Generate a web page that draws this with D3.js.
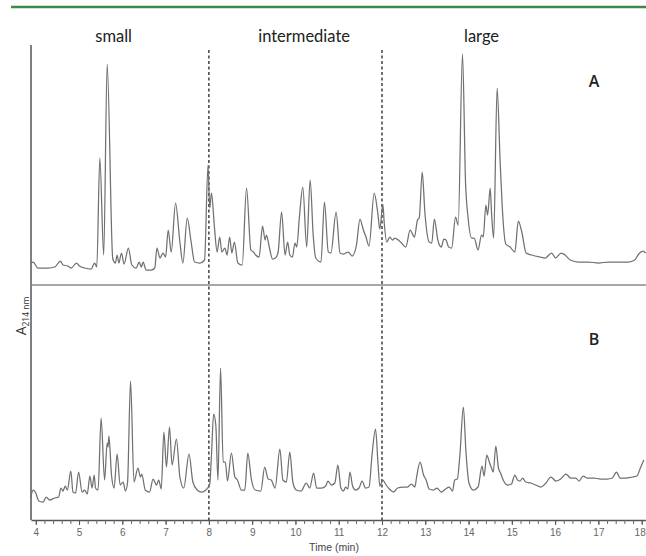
<!DOCTYPE html>
<html lang="en">
<head>
<meta charset="utf-8">
<title>Chromatograms A and B</title>
<script src="https://cdnjs.cloudflare.com/ajax/libs/d3/7.8.5/d3.min.js"></script>
<style>
  body { margin: 0; background: #fff; }
  svg { display: block; }
</style>
</head>
<body>
<div class="chart"></div>
<script>
// retention times (min) and absorbance (arbitrary units)
const timeA = [3.89, 3.94, 4.05, 4.28, 4.44, 4.57, 4.63, 4.74, 4.82, 4.94, 5.01, 5.13, 5.28, 5.36, 5.41,
  5.48, 5.57, 5.65, 5.78, 5.84, 5.88, 5.92, 5.98, 6.04, 6.14, 6.22, 6.32, 6.39, 6.44, 6.48, 6.55, 6.67,
  6.75, 6.80, 6.87, 6.94, 7.00, 7.06, 7.13, 7.23, 7.33, 7.40, 7.50, 7.59, 7.67, 7.79, 7.90, 7.98, 8.02,
  8.06, 8.13, 8.19, 8.25, 8.30, 8.37, 8.42, 8.48, 8.53, 8.59, 8.67, 8.77, 8.87, 8.97, 9.03, 9.08, 9.16,
  9.24, 9.30, 9.33, 9.40, 9.47, 9.54, 9.60, 9.68, 9.76, 9.82, 9.87, 9.93, 9.99, 10.03, 10.09, 10.17,
  10.26, 10.34, 10.41, 10.47, 10.59, 10.67, 10.76, 10.82, 10.94, 11.03, 11.11, 11.22, 11.31, 11.41,
  11.49, 11.57, 11.63, 11.70, 11.82, 11.90, 11.95, 12.02, 12.05, 12.11, 12.18, 12.24, 12.30, 12.38,
  12.45, 12.55, 12.65, 12.75, 12.82, 12.86, 12.93, 12.99, 13.09, 13.15, 13.21, 13.29, 13.37, 13.43,
  13.48, 13.54, 13.61, 13.70, 13.76, 13.86, 13.93, 13.99, 14.07, 14.13, 14.22, 14.30, 14.34, 14.40,
  14.44, 14.50, 14.53, 14.58, 14.66, 14.73, 14.78, 14.86, 14.96, 15.07, 15.15, 15.23, 15.33, 15.46,
  15.65, 15.77, 15.92, 16.01, 16.14, 16.23, 16.35, 16.54, 16.77, 17.00, 17.23, 17.46, 17.69, 17.84,
  17.93, 18.03, 18.09];
const absA = [22, 23, 17, 17, 18, 24, 20, 19, 17, 22, 19, 17, 16, 22, 18,
  127, 30, 221, 26, 22, 30, 22, 32, 21, 37, 20, 17, 23, 18, 23, 15, 15,
  17, 37, 27, 32, 28, 55, 33, 82, 43, 22, 67, 43, 23, 22, 25, 120, 77,
  92, 57, 33, 48, 33, 37, 30, 48, 32, 43, 22, 20, 97, 35, 33, 30, 28,
  59, 45, 50, 37, 26, 27, 33, 73, 30, 43, 30, 28, 42, 38, 67, 98,
  38, 105, 50, 27, 23, 83, 33, 32, 73, 32, 31, 33, 29, 40,
  66, 55, 48, 39, 92, 73, 56, 81, 63, 43, 48, 45, 47, 45,
  42, 38, 55, 48, 65, 67, 113, 73, 43, 42, 66, 45, 38, 46,
  45, 38, 37, 68, 60, 231, 103, 67, 47, 47, 35, 50, 48, 80,
  70, 97, 73, 47, 197, 123, 77, 41, 38, 33, 64, 53, 32, 30,
  28, 27, 32, 27, 32, 30, 25, 23, 23, 22, 23, 23, 23, 25,
  31, 34, 32];

const timeB = [3.88, 3.94, 3.99, 4.07, 4.17, 4.24, 4.32, 4.44, 4.53, 4.58, 4.63, 4.68, 4.73, 4.81, 4.86,
  4.92, 4.99, 5.07, 5.13, 5.19, 5.25, 5.30, 5.35, 5.38, 5.44, 5.51, 5.59, 5.65, 5.67, 5.69, 5.75, 5.81,
  5.88, 5.95, 6.02, 6.07, 6.12, 6.19, 6.27, 6.36, 6.42, 6.45, 6.53, 6.63, 6.71, 6.79, 6.84, 6.90, 6.96,
  7.02, 7.09, 7.15, 7.25, 7.33, 7.42, 7.54, 7.63, 7.73, 7.83, 7.93, 8.02, 8.06, 8.11, 8.16, 8.21, 8.27,
  8.33, 8.38, 8.43, 8.52, 8.60, 8.66, 8.75, 8.83, 8.90, 8.98, 9.07, 9.20, 9.29, 9.37, 9.44, 9.53, 9.64,
  9.71, 9.79, 9.87, 9.94, 10.02, 10.13, 10.25, 10.33, 10.42, 10.49, 10.60, 10.70, 10.75, 10.83, 10.91,
  10.98, 11.05, 11.11, 11.16, 11.21, 11.26, 11.32, 11.39, 11.47, 11.54, 11.62, 11.70, 11.77, 11.85,
  11.91, 11.95, 12.02, 12.08, 12.17, 12.27, 12.36, 12.48, 12.59, 12.68, 12.76, 12.80, 12.88, 12.96,
  13.02, 13.09, 13.19, 13.27, 13.37, 13.47, 13.55, 13.63, 13.68, 13.74, 13.80, 13.88, 13.94, 14.01,
  14.11, 14.22, 14.31, 14.36, 14.42, 14.48, 14.53, 14.57, 14.63, 14.69, 14.74, 14.80, 14.90, 14.99,
  15.07, 15.13, 15.19, 15.25, 15.32, 15.44, 15.55, 15.67, 15.79, 15.90, 16.02, 16.13, 16.25, 16.36,
  16.48, 16.55, 16.65, 16.74, 16.90, 17.05, 17.20, 17.32, 17.42, 17.50, 17.63, 17.78, 17.89, 17.97,
  18.05];
const absB = [22, 30, 28, 19, 18, 23, 20, 22, 23, 32, 29, 34, 30, 49, 28,
  27, 48, 28, 30, 26, 44, 32, 45, 32, 30, 102, 40, 77, 73, 84, 45, 32,
  66, 35, 38, 29, 37, 139, 38, 52, 43, 46, 30, 28, 41, 35, 40, 31, 88,
  53, 93, 55, 81, 43, 32, 66, 38, 30, 28, 30, 36, 65, 106, 95, 40, 152,
  58, 58, 39, 67, 43, 40, 30, 30, 67, 41, 30, 29, 53, 41, 40, 32, 71,
  40, 38, 68, 38, 30, 29, 37, 32, 47, 32, 32, 34, 39, 35, 37,
  55, 32, 29, 33, 31, 48, 34, 30, 32, 39, 32, 33, 65, 91,
  55, 34, 40, 36, 31, 28, 32, 33, 33, 36, 33, 43, 58, 45,
  40, 31, 30, 32, 28, 31, 33, 29, 40, 41, 65, 113, 68, 37,
  30, 33, 54, 44, 65, 58, 52, 48, 74, 52, 47, 40, 35, 36,
  45, 40, 39, 42, 38, 37, 35, 33, 37, 43, 39, 41, 46, 42,
  42, 39, 44, 42, 42, 41, 41, 42, 48, 42, 42, 43, 44, 52,
  60];

const xTicks = [4, 5, 6, 7, 8, 9, 10, 11, 12, 13, 14, 15, 16, 17, 18];
const fractionBounds = [8, 12];
const fractionNames = ["small", "intermediate", "large"];
const fractionCentres = [5.8, 10.2, 14.3];
const panelNames = ["A", "B"];

const w = 646;
const h = 556;

const svg = d3.select(".chart")
  .append("svg")
  .attr("width", w)
  .attr("height", h);

// green rule along the top
svg.append("line")
  .attr("x1", 11).attr("x2", w)
  .attr("y1", 7).attr("y2", 7)
  .attr("stroke", "#3c8a4a")
  .attr("stroke-width", 2.5);

const xScale = d3.scaleLinear()
  .domain([3.89, 18.1])
  .range([31, 646]);

// both panels share the same height
const yA = d3.scaleLinear().domain([0, 235]).range([285, 50]);
const yB = d3.scaleLinear().domain([0, 235]).range([520, 285]);

// x axis: minor ticks every 0.2 min, labels on whole minutes
const minorTicks = d3.range(20, 91).map(d => d / 5);
svg.append("g")
  .attr("transform", "translate(0,520)")
  .call(d3.axisBottom(xScale).tickValues(minorTicks).tickSize(4).tickFormat("").tickSizeOuter(0))
  .call(g => g.select(".domain").attr("stroke", "#555").attr("stroke-width", 1.5))
  .call(g => g.selectAll(".tick line").attr("stroke", "#666"));

svg.append("g")
  .attr("id", "x-axis")
  .attr("transform", "translate(0,520)")
  .call(d3.axisBottom(xScale).tickValues(xTicks).tickSize(5).tickPadding(4).tickSizeOuter(0))
  .call(g => g.select(".domain").remove())
  .call(g => g.selectAll(".tick line").attr("stroke", "#555"))
  .call(g => g.selectAll(".tick text")
    .attr("fill", "#666")
    .attr("dx", d => d === 18 ? -2 : 0)
    .style("font-family", "'Liberation Sans', Arial, sans-serif")
    .style("font-size", "10px"));

svg.append("text")
  .attr("x", 334)
  .attr("y", 551)
  .attr("text-anchor", "middle")
  .attr("fill", "#444")
  .style("font-family", "'Liberation Sans', Arial, sans-serif")
  .style("font-size", "10.5px")
  .text("Time (min)");

// left axis line
svg.append("line")
  .attr("x1", 31).attr("x2", 31)
  .attr("y1", 45).attr("y2", 520)
  .attr("stroke", "#555")
  .attr("stroke-width", 1.5);

// separator between panels
svg.append("line")
  .attr("x1", 31).attr("x2", w)
  .attr("y1", yA(0)).attr("y2", yA(0))
  .attr("stroke", "#8a8a8a")
  .attr("stroke-width", 1.5);

// fraction boundaries
svg.selectAll(".bound")
  .data(fractionBounds)
  .enter()
  .append("line")
  .attr("class", "bound")
  .attr("x1", d => xScale(d)).attr("x2", d => xScale(d))
  .attr("y1", 50).attr("y2", 520)
  .attr("stroke", "#333")
  .attr("stroke-width", 1.4)
  .attr("stroke-dasharray", "3,2.5");

svg.selectAll(".frac")
  .data(fractionNames)
  .enter()
  .append("text")
  .attr("class", "frac")
  .attr("x", (d, i) => xScale(fractionCentres[i]))
  .attr("y", 42)
  .attr("text-anchor", "middle")
  .attr("fill", "#222")
  .style("font-family", "Lato, 'Open Sans', sans-serif")
  .style("font-size", "16.5px")
  .text(d => d);

// traces
const lineA = d3.line()
  .x((d, i) => xScale(timeA[i]))
  .y(d => yA(d))
  .curve(d3.curveMonotoneX);
const lineB = d3.line()
  .x((d, i) => xScale(timeB[i]))
  .y(d => yB(d))
  .curve(d3.curveMonotoneX);

svg.append("path")
  .attr("d", lineA(absA))
  .attr("fill", "none")
  .attr("stroke", "#707070")
  .attr("stroke-width", 1.25)
  .attr("stroke-linejoin", "round");

svg.append("path")
  .attr("d", lineB(absB))
  .attr("fill", "none")
  .attr("stroke", "#707070")
  .attr("stroke-width", 1.25)
  .attr("stroke-linejoin", "round");

// panel letters
svg.selectAll(".panel")
  .data(panelNames)
  .enter()
  .append("text")
  .attr("class", "panel")
  .attr("x", 594)
  .attr("y", (d, i) => i === 0 ? 87 : 345)
  .attr("text-anchor", "middle")
  .attr("fill", "#222")
  .style("font-family", "'Open Sans', Arial, sans-serif")
  .style("font-size", "16px")
  .style("font-weight", "600")
  .text(d => d);

// y label: A with 214 nm subscript
const yLabel = svg.append("text")
  .attr("transform", "translate(26,316) rotate(-90)")
  .attr("text-anchor", "middle")
  .attr("fill", "#333")
  .style("font-family", "'Open Sans', Arial, sans-serif")
  .style("font-size", "14px");
yLabel.append("tspan").text("A");
yLabel.append("tspan")
  .attr("dy", 3)
  .style("font-size", "8.5px")
  .text("214 nm");
</script>
</body>
</html>
